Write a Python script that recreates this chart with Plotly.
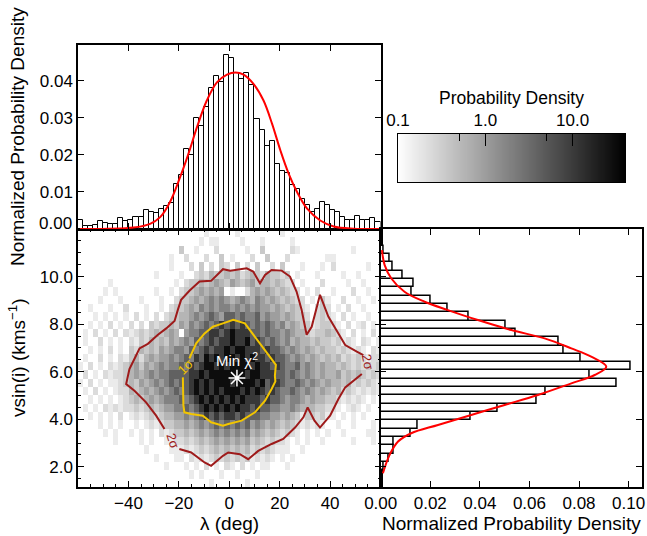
import numpy as np
import plotly.graph_objects as go

W, H = 647, 536
FONT = "Liberation Sans, Arial, Helvetica, sans-serif"

# ---------------- data ----------------
# top histogram: lambda (deg), bins of 2 deg starting at -60
LAM_MIN, LAM_BIN = -60.0, 2.0
lam_density = [0.0023, 0.0008, 0.0008, 0.0011, 0.0021, 0.0015, 0.0014, 0.0013, 0.0029, 0.0022,
               0.0024, 0.0033, 0.0033, 0.0051, 0.0047, 0.0044, 0.0055, 0.0063, 0.0071, 0.0121,
               0.0146, 0.0217, 0.0199, 0.0300, 0.0278, 0.0330, 0.0380, 0.0412, 0.0398, 0.0470,
               0.0461, 0.0421, 0.0405, 0.0421, 0.0390, 0.0297, 0.0268, 0.0223, 0.0239, 0.0176,
               0.0157, 0.0151, 0.0118, 0.0107, 0.0082, 0.0066, 0.0047, 0.0053, 0.0072, 0.0064,
               0.0051, 0.0047, 0.0033, 0.0024, 0.0024, 0.0036, 0.0024, 0.0024, 0.0029, 0.0020]
lam_fit_x = [-59.2, -38.0, -31.4, -27.4, -23.5, -19.5, -16.2, -12.8, -8.9, -4.9, -0.9, 2.4,
             5.7, 9.6, 13.6, 17.0, 20.3, 23.6, 26.9, 30.9, 36.1, 41.4, 49.4, 60.0]
lam_fit_y = [0.0000, 0.0004, 0.0014, 0.0032, 0.0073, 0.0140, 0.0203, 0.0275, 0.0347, 0.0396,
             0.0417, 0.0423, 0.0417, 0.0392, 0.0347, 0.0284, 0.0212, 0.0149, 0.0100, 0.0055,
             0.0023, 0.0007, 0.0001, 0.0000]

# right histogram: vsin(i) (km/s), bins of 0.35 starting at 1.85
VS_MIN, VS_BIN = 1.85, 0.35
vsini_density = [0.0013, 0.0033, 0.0053, 0.0053, 0.0123, 0.0150, 0.0361, 0.0473, 0.0630,
                 0.0665, 0.0953, 0.0843, 0.1007, 0.0805, 0.0738, 0.0719, 0.0543, 0.0503,
                 0.0355, 0.0269, 0.0200, 0.0127, 0.0134, 0.0087, 0.0049, 0.0036, 0.0013]
vs_fit_dens = [0.0005, 0.0016, 0.0043, 0.0096, 0.0177, 0.0271, 0.0392, 0.0527, 0.0661, 0.0769,
               0.0849, 0.0910, 0.0863, 0.0769, 0.0634, 0.0500, 0.0365, 0.0231, 0.0123, 0.0070,
               0.0036, 0.0009]
vs_fit_v = [11.11, 10.48, 9.92, 9.36, 8.94, 8.59, 8.17, 7.75, 7.40, 6.98, 6.63, 6.21, 5.86,
            5.51, 5.02, 4.60, 4.18, 3.76, 3.41, 3.06, 2.50, 1.73]

# 2-D density: 60 columns (2 deg, from -60) x 31 rows (0.35 km/s, from 1.15),
# grey level 0 (empty) .. 9 (black); rows listed top (12.0) to bottom (1.15)
HEAT_X0, HEAT_DX = -60.0, 2.0
HEAT_Y0, HEAT_DY = 1.15, 0.35
heat_rows = [
    "0000000000" "0000000000" "0000010000" "0100000000" "1000000000" "0000000000",
    "0000000000" "0000000000" "0000101100" "0010001000" "0010000000" "0000000000",
    "0000000000" "0000000000" "3001000200" "0001003000" "0021000000" "0000100000",
    "0000000000" "0000000010" "0200020030" "1000200300" "0200000001" "1000000000",
    "0000000000" "0000000010" "0020302032" "0302030020" "3000100010" "2000000100",
    "0000000000" "0000010000" "1002324334" "3423432433" "2301000100" "0010010000",
    "0000001000" "0000000001" "0233434543" "5434534434" "3220100020" "0001001000",
    "0000010100" "0000010010" "2334545450" "1002454543" "4322010200" "1000200100",
    "0000100010" "0010001002" "3345456565" "4565465454" "3432201031" "0020010010",
    "0010001002" "0001001023" "3454656566" "5656565545" "4343210232" "0102001000",
    "0001010101" "0201020233" "4456567657" "7676675655" "4543320232" "1020100100",
    "0010102010" "2020323343" "5465676787" "8787676765" "6454331233" "2102012010",
    "0102010202" "1232343454" "0566778878" "9888776766" "5654432334" "3210201020",
    "0100201010" "2132434354" "5657678788" "9889787676" "5645443433" "2312102101",
    "0010102010" "3243435456" "6576787889" "8998887877" "6565454343" "3232121021",
    "0100201021" "3424545565" "6768798989" "9898988787" "7656545434" "3423232122",
    "1020102123" "4535456566" "7687899898" "9999898878" "7667565454" "4343232323",
    "0201021223" "4545656677" "7788989999" "9998998887" "7676565454" "4534343232",
    "1020101123" "4354565676" "7789898999" "8999989788" "7667656545" "4434232321",
    "0102010122" "4345456567" "6789898989" "9989898787" "6676565454" "3423212121",
    "0010101012" "3434545666" "7678989898" "9898887877" "6566545443" "3212121010",
    "0101021212" "2323434556" "6767898989" "8988787766" "5565444332" "2101210100",
    "0010101020" "1212323445" "5656787878" "8787776655" "4543133231" "1010101000",
    "0000101010" "0101212334" "4545656767" "6767565454" "3432121210" "0100100010",
    "0000010100" "1010102123" "3434545656" "5656454343" "2321010101" "0010000110",
    "0000000100" "0010100112" "2323434545" "4545343232" "2101010010" "0000100010",
    "0000000000" "0001000011" "1212323434" "3434232321" "1100100000" "0000000000",
    "0000000000" "0000010001" "1021212323" "2323121210" "1010000000" "0000000000",
    "0000000000" "0000000100" "0101020102" "1020101100" "0100000000" "0000000000",
    "0000000000" "0000000000" "0010100010" "0100010000" "0000000000" "0000000000",
    "0000000000" "0000000000" "0000001000" "0001000000" "0000000000" "0000000000",
]
# grey level -> position in log-density colour range (0 = white, 1 = black)
grey_frac = [None, 0.08, 0.14, 0.21, 0.29, 0.38, 0.49, 0.62, 0.78, 0.95]
LOG_MIN, LOG_MAX = -1.0, 1.6   # colour range: 0.1 .. ~40

# 2-sigma contour (two pieces, broken at the labels)
c2a_x = [52.6, 48.6, 46.0, 43.3, 40.0, 36.0, 33.8, 31.1, 29.4, 26.1, 21.4, 16.8, 11.5, 7.5,
         4.2, -0.4, -2.5, -7.2, -9.8, -15.1, -19.8]
c2a_y = [5.90, 5.55, 5.34, 4.85, 4.15, 3.65, 3.94, 4.50, 4.08, 3.65, 3.17, 2.96, 2.67, 2.32,
         2.53, 2.60, 2.46, 2.04, 2.18, 2.60, 2.75]
c2b_x = [-25.7, -29.0, -33.0, -37.6, -40.9, -39.6, -37.0, -35.6, -32.3, -28.3, -25.0, -21.7,
         -20.4, -19.1, -15.8, -11.8, -7.2, -2.5, 0.4, 6.9, 9.5, 12.2, 14.2, 16.8, 20.8, 24.1,
         26.7, 28.7, 30.7, 32.7, 36.0, 39.3, 43.3, 46.0, 50.6, 53.2]
c2b_y = [3.59, 4.15, 4.71, 5.20, 5.48, 6.11, 6.67, 6.98, 7.17, 7.55, 7.82, 8.13, 8.60, 9.02,
         9.40, 9.79, 9.82, 10.31, 10.24, 10.35, 10.21, 9.72, 10.07, 10.28, 10.25, 10.00, 9.37,
         8.60, 7.55, 7.89, 9.23, 8.32, 7.61, 7.12, 6.84, 6.70]
# 1-sigma contour
c1_x = [-15.8, -13.1, -9.8, -6.5, -2.5, 0.4, 1.6, 6.2, 10.2, 14.2, 16.8, 18.5, 18.1, 18.3,
        16.8, 14.2, 10.2, 4.9, -0.4, -2.5, -7.2, -10.5, -15.1, -17.8, -18.2, -18.4]
c1_y = [6.56, 7.19, 7.61, 7.89, 8.03, 8.13, 8.18, 8.03, 7.47, 6.91, 6.56, 6.29, 5.83, 5.59,
        5.27, 4.78, 4.29, 3.94, 3.80, 3.73, 3.87, 4.15, 4.22, 4.29, 4.60, 5.76]
min_chi2 = (3.05, 5.73)

# ---------------- derived ----------------
lam_centers = [LAM_MIN + LAM_BIN * (i + 0.5) for i in range(len(lam_density))]
vs_centers = [VS_MIN + VS_BIN * (i + 0.5) for i in range(len(vsini_density))]
rows_bottom_up = heat_rows[::-1]
heat_x = [HEAT_X0 + HEAT_DX * (i + 0.5) for i in range(len(rows_bottom_up[0]))]
heat_y = [HEAT_Y0 + HEAT_DY * (j + 0.5) for j in range(len(rows_bottom_up))]
heat_z = [[(LOG_MIN + (LOG_MAX - LOG_MIN) * grey_frac[int(ch)]) if ch != "0" else None
           for ch in row] for row in rows_bottom_up]


def xd(a, b):
    return [a / W, b / W]


def yd(top, bottom):
    return [1 - bottom / H, 1 - top / H]


MAIN_X = (78, 380.5)
MAIN_Y = (229, 487)
TOP_Y = (45, 229)
RIGHT_X = (380.7, 642)
CB_X = (398, 625)
CB_Y = (134, 182)

fig = go.Figure()

fig.add_trace(go.Heatmap(x=heat_x, y=heat_y, z=heat_z, zmin=LOG_MIN, zmax=LOG_MAX,
                         colorscale=[[0, "white"], [1, "black"]], showscale=False,
                         hoverinfo="skip", xaxis="x", yaxis="y"))

RED2 = "#9e1a1a"
YEL = "#f2c500"
fig.add_trace(go.Scatter(x=c2a_x, y=c2a_y, mode="lines", line=dict(color=RED2, width=2),
                         xaxis="x", yaxis="y", hoverinfo="skip"))
fig.add_trace(go.Scatter(x=c2b_x, y=c2b_y, mode="lines", line=dict(color=RED2, width=2),
                         xaxis="x", yaxis="y", hoverinfo="skip"))
fig.add_trace(go.Scatter(x=c1_x, y=c1_y, mode="lines", line=dict(color=YEL, width=2),
                         xaxis="x", yaxis="y", hoverinfo="skip"))
fig.add_trace(go.Scatter(x=[min_chi2[0]], y=[min_chi2[1]], mode="markers",
                         marker=dict(symbol="asterisk-open", size=14, color="white",
                                     line=dict(color="white", width=1.5)),
                         xaxis="x", yaxis="y", hoverinfo="skip"))

fig.add_trace(go.Bar(x=lam_centers, y=lam_density, width=LAM_BIN,
                     marker=dict(color="white", line=dict(color="black", width=1)),
                     xaxis="x2", yaxis="y2", hoverinfo="skip"))
fig.add_trace(go.Scatter(x=lam_fit_x, y=lam_fit_y, mode="lines", line_shape="spline",
                         line=dict(color="#ff0000", width=2), xaxis="x2", yaxis="y2",
                         hoverinfo="skip"))

fig.add_trace(go.Bar(y=vs_centers, x=vsini_density, width=VS_BIN, orientation="h",
                     marker=dict(color="white", line=dict(color="black", width=1.5)),
                     xaxis="x3", yaxis="y3", hoverinfo="skip"))
fig.add_trace(go.Scatter(x=vs_fit_dens, y=vs_fit_v, mode="lines", line_shape="spline",
                         line=dict(color="#ff0000", width=2), xaxis="x3", yaxis="y3",
                         hoverinfo="skip"))

# colour bar ramp (legend of the grey scale)
cb_levels = np.linspace(LOG_MIN, LOG_MAX, 261)
fig.add_trace(go.Heatmap(x=cb_levels, y=[0.5], z=[cb_levels], zmin=LOG_MIN, zmax=LOG_MAX,
                         colorscale=[[0, "white"], [1, "black"]], showscale=False,
                         hoverinfo="skip", xaxis="x4", yaxis="y4"))

tf = dict(family=FONT, size=17, color="black")
base = dict(showline=True, linecolor="black", linewidth=1.5, mirror="ticks", ticks="inside",
            tickcolor="black", tickwidth=1.2, showgrid=False, zeroline=False, tickfont=tf)

fig.update_layout(
    width=W, height=H, margin=dict(l=0, r=0, t=0, b=0, pad=0, autoexpand=False),
    paper_bgcolor="white", plot_bgcolor="white", showlegend=False,
    bargap=0, barmode="overlay",
    xaxis=dict(base, domain=xd(*MAIN_X), range=[-60, 60], tickvals=[-40, -20, 0, 20, 40],
               ticklen=6, anchor="y",
               minor=dict(tick0=0, dtick=5, ticklen=3, ticks="inside", tickcolor="black")),
    yaxis=dict(base, domain=yd(*MAIN_Y), range=[1.15, 12.0], tickvals=[2, 4, 6, 8, 10],
               tickformat=".1f", ticklen=6, anchor="x",
               minor=dict(tick0=0, dtick=0.5, ticklen=3, ticks="inside", tickcolor="black")),
    xaxis2=dict(base, domain=xd(*MAIN_X), range=[-60, 60], tickvals=[-40, -20, 0, 20, 40],
                ticklen=6, showticklabels=False, anchor="y2"),
    yaxis2=dict(base, domain=yd(*TOP_Y), range=[0, 0.0497],
                tickvals=[0.01, 0.02, 0.03, 0.04], tickformat=".2f", ticklen=6, anchor="x2"),
    xaxis3=dict(base, domain=xd(*RIGHT_X), range=[0, 0.1054],
                tickvals=[0, 0.02, 0.04, 0.06, 0.08, 0.10], tickformat=".2f", ticklen=6,
                anchor="y3"),
    yaxis3=dict(base, domain=yd(*MAIN_Y), range=[1.15, 12.0], tickvals=[2, 4, 6, 8, 10],
                showticklabels=False, ticklen=6, anchor="x3"),
    xaxis4=dict(showline=True, linecolor="black", linewidth=1, mirror=True, ticks="inside",
                tickcolor="black", tickwidth=1, ticklen=12, side="top", showgrid=False,
                zeroline=False, domain=xd(*CB_X), range=[LOG_MIN, LOG_MAX],
                tickvals=[-1, 0, 1], ticktext=["0.1", "1.0", "10.0"], tickfont=tf,
                anchor="y4",
                minor=dict(tickvals=[np.log10(0.5), np.log10(5.0)], ticklen=7,
                           ticks="inside", tickcolor="black")),
    yaxis4=dict(showline=True, linecolor="black", linewidth=1, mirror=True, ticks="",
                showticklabels=False, showgrid=False, zeroline=False, domain=yd(*CB_Y),
                range=[0, 1], anchor="x4"),
)

tfont = dict(family=FONT, size=19, color="black")
ann = [
    dict(text="Normalized Probability Density", x=17 / W, y=1 - 137 / H, textangle=-90,
         font=tfont),
    dict(text="vsin(i) (kms<sup>−1</sup>)", x=17 / W, y=1 - 358 / H, textangle=-90, font=tfont),
    dict(text="λ (deg)", x=229 / W, y=1 - 523 / H, font=tfont),
    dict(text="Normalized Probability Density", x=511 / W, y=1 - 523 / H, font=tfont),
    dict(text="Probability Density", x=511.5 / W, y=1 - 98 / H,
         font=dict(family=FONT, size=17.5, color="black")),
    dict(text="0.00", x=74 / W, y=1 - 223 / H, xanchor="right", font=tf),
]
for a in ann:
    a.setdefault("xanchor", "center")
    fig.add_annotation(xref="paper", yref="paper", showarrow=False, yanchor="middle", **a)

fig.add_annotation(xref="x", yref="y", x=min_chi2[0], y=6.5, text="Min χ<sup>2</sup>",
                   showarrow=False, font=dict(family=FONT, size=15, color="white"))
fig.add_annotation(xref="x", yref="y", x=54.8, y=6.42, text="2σ", textangle=78,
                   showarrow=False, font=dict(family=FONT, size=13, color=RED2))
fig.add_annotation(xref="x", yref="y", x=-22.5, y=3.09, text="2σ", textangle=72,
                   showarrow=False, font=dict(family=FONT, size=13, color=RED2))
fig.add_annotation(xref="x", yref="y", x=-17.2, y=6.2, text="1σ", textangle=-45,
                   showarrow=False, font=dict(family=FONT, size=13, color=YEL))

fig.write_html("out.html", config={"displayModeBar": False})

# remove the browser's default page margin so the figure sits at the window origin
with open("out.html", "r", encoding="utf-8") as fh:
    page = fh.read()
page = page.replace("<head>", "<head><style>html,body{margin:0;padding:0;overflow:hidden;}</style>", 1)
with open("out.html", "w", encoding="utf-8") as fh:
    fh.write(page)
